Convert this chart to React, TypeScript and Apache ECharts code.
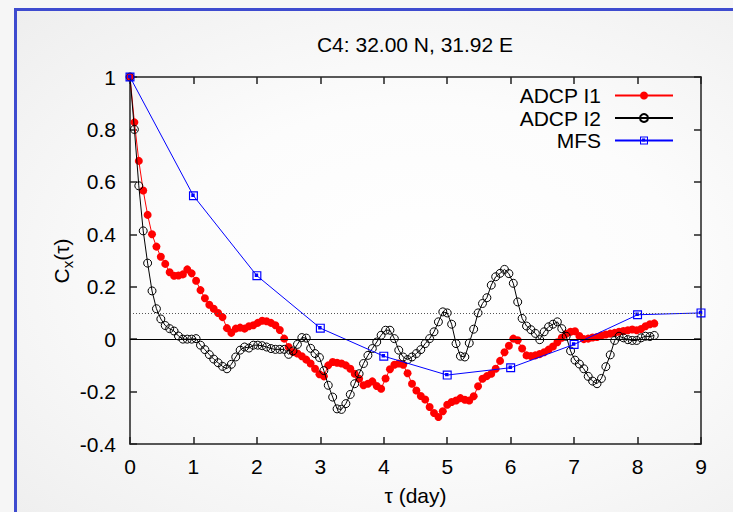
import React, { useEffect, useRef } from "react";
import * as echarts from "echarts";

// Sampling interval of the ADCP lag series: 100 minutes, expressed in days
const LAG_STEP_DAY = 100 / 1440;

const adcpI1: number[] = [
  1.0, 0.827, 0.68, 0.567, 0.474, 0.4, 0.353, 0.314, 0.287, 0.255,
  0.242, 0.243, 0.247, 0.266, 0.251, 0.223, 0.187, 0.156, 0.131, 0.116,
  0.1, 0.084, 0.042, 0.024, 0.04, 0.044, 0.04, 0.049, 0.053, 0.062,
  0.07, 0.068, 0.062, 0.053, 0.035, 0.002, -0.03, -0.049, -0.055, -0.065,
  -0.078, -0.093, -0.113, -0.134, -0.142, -0.1, -0.087, -0.09, -0.093, -0.1,
  -0.113, -0.132, -0.151, -0.176, -0.17, -0.161, -0.179, -0.189, -0.15, -0.115,
  -0.098, -0.093, -0.098, -0.13, -0.17, -0.196, -0.217, -0.23, -0.259, -0.282,
  -0.297, -0.275, -0.25, -0.24, -0.234, -0.225, -0.231, -0.234, -0.218, -0.18,
  -0.151, -0.141, -0.132, -0.113, -0.083, -0.05, -0.025, 0.002, -0.004, -0.036,
  -0.062, -0.064, -0.062, -0.057, -0.05, -0.04, -0.028, -0.012, 0.005, 0.02,
  0.028, 0.03, 0.012, 0.0, 0.002, 0.006, 0.008, 0.014, 0.018, 0.021,
  0.024, 0.028, 0.031, 0.034, 0.037, 0.034, 0.039, 0.049, 0.057, 0.06,
];

const adcpI2: number[] = [
  1.0, 0.8, 0.585, 0.413, 0.29, 0.184, 0.116, 0.077, 0.052, 0.04,
  0.031, 0.012, 0.0, 0.0, 0.0, 0.002, -0.023, -0.04, -0.059, -0.076,
  -0.09, -0.104, -0.113, -0.096, -0.068, -0.042, -0.03, -0.034, -0.023, -0.023,
  -0.025, -0.03, -0.036, -0.039, -0.039, -0.039, -0.058, -0.045, -0.02, 0.006,
  0.004, -0.035, -0.055, -0.07, -0.12, -0.176, -0.221, -0.266, -0.268, -0.246,
  -0.211, -0.17, -0.132, -0.093, -0.062, -0.036, -0.011, 0.015, 0.034, 0.034,
  0.002, -0.042, -0.068, -0.078, -0.068, -0.055, -0.04, -0.017, 0.002, 0.028,
  0.066, 0.104, 0.1, 0.057, -0.017, -0.065, -0.068, -0.015, 0.038, 0.1,
  0.136, 0.158, 0.206, 0.238, 0.251, 0.266, 0.25, 0.213, 0.142, 0.079,
  0.05, 0.036, 0.022, -0.002, 0.028, 0.047, 0.057, 0.066, 0.04, 0.011,
  -0.045, -0.08, -0.095, -0.113, -0.142, -0.16, -0.17, -0.15, -0.105, -0.06,
  -0.005, 0.011, 0.005, -0.002, -0.005, -0.005, 0.005, 0.011, 0.01, 0.014,
];

const mfsDays: number[] = [0, 1, 2, 3, 4, 5, 6, 7, 8, 9];
const mfsValues: number[] = [1.0, 0.547, 0.242, 0.042, -0.065, -0.137, -0.109, -0.02, 0.093, 0.1];

const seriesNames = ["ADCP I1", "ADCP I2", "MFS"];
const titleText = "C4: 32.00 N, 31.92 E";
const xAxisTitle = "τ (day)";
const referenceLevels = { zero: 0, threshold: 0.1 };

const FONT = "'Liberation Sans', Arial, Helvetica, sans-serif";
const FS = 21;

const mfsSymbol =
  "path://M0,0H10V10H0Z M1.3,1.3V8.7H8.7V1.3Z M2.6,2.6H6.4V6.4H2.6Z";

export default function App() {
  const ref = useRef<HTMLDivElement>(null);

  useEffect(() => {
    if (!ref.current) return;
    const chart = echarts.init(ref.current, undefined, { renderer: "svg" });

    const axisLineStyle = { color: "#222", width: 1.5 };
    const xBase = {
      type: "value" as const,
      min: 0,
      max: 9,
      interval: 1,
      splitLine: { show: false },
      axisLine: { show: true, onZero: false, lineStyle: axisLineStyle },
      axisTick: { show: true, inside: true, length: 7, lineStyle: axisLineStyle },
    };
    const yBase = {
      type: "value" as const,
      min: -0.4,
      max: 1,
      interval: 0.2,
      splitLine: { show: false },
      axisLine: { show: true, onZero: false, lineStyle: axisLineStyle },
      axisTick: { show: true, inside: true, length: 7, lineStyle: axisLineStyle },
    };

    chart.setOption({
      animation: false,
      backgroundColor: "transparent",
      textStyle: { fontFamily: FONT },
      grid: { left: 130, right: 32, top: 77, bottom: 68, containLabel: false },
      legend: {
        orient: "vertical",
        right: 59,
        top: 85,
        padding: 0,
        align: "right",
        itemWidth: 58,
        itemHeight: 10,
        itemGap: 1.5,
        data: seriesNames,
        textStyle: {
          fontFamily: FONT,
          fontSize: FS,
          color: "#000",
          lineHeight: 20,
          padding: [0, 9, 0, 0],
        },
      },
      graphic: [
        {
          type: "text",
          x: 415,
          y: 44,
          silent: true,
          style: {
            text: titleText,
            font: `${FS}px ${FONT}`,
            fill: "#000",
            align: "center",
            verticalAlign: "middle",
          },
        },
        {
          type: "text",
          x: 61,
          y: 261,
          rotation: Math.PI / 2,
          silent: true,
          style: {
            text: "{a|C}{s|x}{a|(τ)}",
            align: "center",
            verticalAlign: "middle",
            rich: {
              a: { fontFamily: FONT, fontSize: FS, fill: "#000", lineHeight: 28, verticalAlign: "middle" },
              s: { fontFamily: FONT, fontSize: 15, fill: "#000", lineHeight: 28, verticalAlign: "bottom" },
            },
          },
        },
      ],
      xAxis: [
        {
          ...xBase,
          position: "bottom",
          axisLabel: { fontFamily: FONT, fontSize: FS, color: "#000", margin: 12 },
          name: xAxisTitle,
          nameLocation: "middle",
          nameGap: 41,
          nameTextStyle: { fontFamily: FONT, fontSize: FS, color: "#000" },
        },
        { ...xBase, position: "top", axisLabel: { show: false } },
      ],
      yAxis: [
        {
          ...yBase,
          position: "left",
          axisLabel: {
            fontFamily: FONT,
            fontSize: FS,
            color: "#000",
            margin: 14,
            formatter: (v: number) => String(Math.round(v * 10) / 10),
          },
        },
        { ...yBase, position: "right", axisLabel: { show: false } },
      ],
      series: [
        {
          name: "refs",
          type: "line",
          data: [],
          silent: true,
          z: 1,
          markLine: {
            silent: true,
            symbol: "none",
            label: { show: false },
            animation: false,
            data: [
              { yAxis: referenceLevels.zero, lineStyle: { color: "#000", width: 1, type: "solid" } },
              { yAxis: referenceLevels.threshold, lineStyle: { color: "#555", width: 1, type: [1, 2] } },
            ],
          },
        },
        {
          name: seriesNames[0],
          type: "line",
          z: 2,
          data: adcpI1.map((v, i) => [i * LAG_STEP_DAY, v]),
          symbol: "circle",
          symbolSize: 8,
          showAllSymbol: true,
          lineStyle: { color: "#ff0000", width: 1 },
          itemStyle: { color: "#ff0000", borderColor: "#ff0000", borderWidth: 0 },
        },
        {
          name: seriesNames[1],
          type: "line",
          z: 3,
          data: adcpI2.map((v, i) => [i * LAG_STEP_DAY, v]),
          symbol: "circle",
          symbolSize: 8,
          showAllSymbol: true,
          lineStyle: { color: "#000", width: 1 },
          itemStyle: { color: "rgba(255,255,255,0)", borderColor: "#000", borderWidth: 1 },
        },
        {
          name: seriesNames[2],
          type: "line",
          z: 4,
          data: mfsDays.map((d, i) => [d, mfsValues[i]]),
          symbol: mfsSymbol,
          symbolSize: 9,
          showAllSymbol: true,
          lineStyle: { color: "#0000ff", width: 1 },
          itemStyle: { color: "#0000ff" },
        },
      ],
    });

    return () => chart.dispose();
  }, []);

  return (
    <div
      style={{
        position: "absolute",
        left: 0,
        top: 0,
        width: 733,
        height: 512,
        overflow: "hidden",
        background: "#f6f6f6",
      }}
    >
      <div
        style={{
          position: "absolute",
          left: 14,
          top: 8,
          width: 740,
          height: 520,
          borderTop: "3px solid #3e4bcf",
          borderLeft: "3px solid #3e4bcf",
          background:
            "radial-gradient(ellipse at 55% 50%, #ffffff 0%, #fcfcfc 45%, #eeeeee 100%)",
        }}
      />
      <div ref={ref} style={{ position: "absolute", left: 0, top: 0, width: 733, height: 512 }} />
    </div>
  );
}
